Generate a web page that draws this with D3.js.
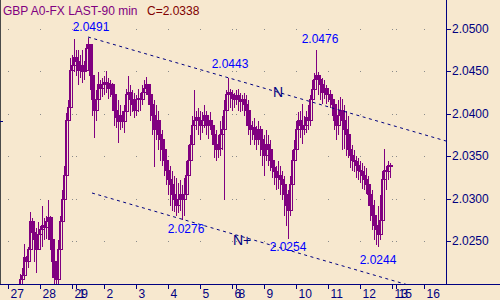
<!DOCTYPE html>
<html><head><meta charset="utf-8">
<script src="https://cdn.jsdelivr.net/npm/d3@7"></script>
<style>
html,body{margin:0;padding:0;background:#f7e8cf;}
svg{display:block;font-family:"Liberation Sans",Arial,sans-serif;}
</style>
</head><body>
<svg id="chart" width="500" height="300"></svg>
<script>
// ---------------- DATA ----------------
const title = "GBP A0-FX LAST-90 min";
const lastLabel = "C=2.0338";
const firstBar = 6; // bar index of the first candle (bars counted from the "27" tick)

const opens = [
2.0195,2.0205,2.0210,2.0231,2.0226,2.0240,2.0273,2.0261,2.0252,2.0240,
2.0258,2.0264,2.0269,2.0266,2.0273,2.0278,2.0252,2.0226,2.0207,2.0205,
2.0240,2.0273,2.0299,2.0328,2.0393,2.0408,2.0452,2.0458,2.0467,2.0462,
2.0452,2.0458,2.0450,2.0452,2.0478,2.0482,2.0446,2.0417,2.0405,2.0417,
2.0435,2.0431,2.0435,2.0438,2.0436,2.0431,2.0435,2.0423,2.0405,2.0396,
2.0391,2.0399,2.0391,2.0403,2.0423,2.0426,2.0417,2.0411,2.0405,2.0417,
2.0419,2.0417,2.0426,2.0431,2.0435,2.0423,2.0411,2.0399,2.0382,2.0393,
2.0376,2.0370,2.0358,2.0346,2.0334,2.0323,2.0317,2.0305,2.0299,2.0293,
2.0299,2.0305,2.0299,2.0305,2.0328,2.0346,2.0364,2.0387,2.0393,2.0396,
2.0393,2.0387,2.0393,2.0399,2.0387,2.0393,2.0387,2.0376,2.0364,2.0358,
2.0360,2.0376,2.0382,2.0405,2.0423,2.0426,2.0423,2.0419,2.0417,2.0422,
2.0417,2.0415,2.0417,2.0411,2.0405,2.0387,2.0382,2.0384,2.0376,2.0370,
2.0382,2.0370,2.0358,2.0352,2.0364,2.0358,2.0346,2.0337,2.0332,2.0325,
2.0328,2.0323,2.0317,2.0305,2.0293,2.0287,2.0317,2.0346,2.0358,2.0382,
2.0393,2.0387,2.0382,2.0387,2.0396,2.0393,2.0417,2.0429,2.0441,2.0446,
2.0441,2.0435,2.0426,2.0431,2.0423,2.0423,2.0417,2.0411,2.0393,2.0387,
2.0399,2.0405,2.0393,2.0382,2.0376,2.0358,2.0352,2.0346,2.0344,2.0340,
2.0334,2.0332,2.0328,2.0323,2.0317,2.0305,2.0293,2.0281,2.0269,2.0264,
2.0258,2.0275,2.0323,2.0334,2.0332,2.0340];

const highs = [
2.0212,2.0219,2.0248,2.0234,2.0244,2.0285,2.0278,2.0269,2.0266,2.0273,
2.0269,2.0293,2.0278,2.0281,2.0299,2.0281,2.0258,2.0234,2.0226,2.0252,
2.0281,2.0311,2.0340,2.0402,2.0417,2.0467,2.0470,2.0489,2.0476,2.0476,
2.0470,2.0476,2.0464,2.0484,2.0491,2.0482,2.0458,2.0423,2.0429,2.0450,
2.0441,2.0443,2.0446,2.0452,2.0443,2.0441,2.0438,2.0431,2.0423,2.0417,
2.0411,2.0405,2.0411,2.0431,2.0446,2.0435,2.0429,2.0426,2.0423,2.0431,
2.0426,2.0435,2.0441,2.0444,2.0435,2.0429,2.0423,2.0417,2.0411,2.0405,
2.0393,2.0382,2.0370,2.0358,2.0346,2.0340,2.0334,2.0328,2.0325,2.0320,
2.0323,2.0317,2.0325,2.0346,2.0364,2.0376,2.0399,2.0429,2.0405,2.0408,
2.0405,2.0403,2.0411,2.0405,2.0399,2.0403,2.0393,2.0387,2.0382,2.0376,
2.0393,2.0399,2.0417,2.0429,2.0443,2.0431,2.0429,2.0426,2.0429,2.0431,
2.0426,2.0423,2.0426,2.0423,2.0417,2.0396,2.0393,2.0396,2.0387,2.0393,
2.0387,2.0382,2.0376,2.0382,2.0376,2.0370,2.0352,2.0346,2.0340,2.0346,
2.0340,2.0334,2.0328,2.0317,2.0311,2.0328,2.0358,2.0370,2.0393,2.0403,
2.0405,2.0413,2.0399,2.0405,2.0411,2.0423,2.0441,2.0449,2.0476,2.0450,
2.0446,2.0443,2.0441,2.0435,2.0431,2.0429,2.0423,2.0417,2.0411,2.0417,
2.0421,2.0419,2.0411,2.0405,2.0399,2.0370,2.0364,2.0358,2.0352,2.0349,
2.0346,2.0343,2.0340,2.0337,2.0328,2.0317,2.0311,2.0299,2.0281,2.0293,
2.0305,2.0334,2.0360,2.0340,2.0346,2.0343];

const lows = [
2.0193,2.0195,2.0208,2.0214,2.0219,2.0240,2.0246,2.0226,2.0213,2.0240,
2.0242,2.0244,2.0252,2.0254,2.0252,2.0240,2.0207,2.0195,2.0195,2.0199,
2.0234,2.0269,2.0293,2.0323,2.0387,2.0399,2.0441,2.0450,2.0446,2.0435,
2.0443,2.0437,2.0441,2.0452,2.0464,2.0429,2.0399,2.0373,2.0393,2.0411,
2.0417,2.0421,2.0423,2.0426,2.0419,2.0421,2.0405,2.0387,2.0384,2.0367,
2.0382,2.0384,2.0379,2.0396,2.0403,2.0399,2.0403,2.0396,2.0399,2.0403,
2.0405,2.0411,2.0417,2.0423,2.0411,2.0393,2.0376,2.0338,2.0370,2.0358,
2.0346,2.0340,2.0328,2.0317,2.0305,2.0293,2.0287,2.0285,2.0281,2.0284,
2.0287,2.0276,2.0281,2.0299,2.0317,2.0334,2.0358,2.0376,2.0382,2.0376,
2.0370,2.0379,2.0384,2.0376,2.0372,2.0382,2.0364,2.0349,2.0346,2.0349,
2.0352,2.0358,2.0300,2.0399,2.0411,2.0408,2.0405,2.0408,2.0411,2.0405,
2.0403,2.0405,2.0399,2.0387,2.0376,2.0364,2.0370,2.0364,2.0358,2.0364,
2.0352,2.0340,2.0328,2.0346,2.0340,2.0334,2.0325,2.0317,2.0311,2.0313,
2.0305,2.0299,2.0281,2.0269,2.0254,2.0281,2.0305,2.0328,2.0346,2.0370,
2.0373,2.0366,2.0376,2.0378,2.0382,2.0387,2.0405,2.0417,2.0435,2.0423,
2.0417,2.0413,2.0419,2.0413,2.0415,2.0408,2.0399,2.0382,2.0370,2.0376,
2.0387,2.0358,2.0360,2.0352,2.0349,2.0337,2.0334,2.0332,2.0326,2.0323,
2.0320,2.0313,2.0311,2.0307,2.0293,2.0275,2.0264,2.0252,2.0246,2.0244,
2.0252,2.0264,2.0317,2.0311,2.0323,2.0325];

const closes = [
2.0205,2.0210,2.0231,2.0226,2.0240,2.0273,2.0261,2.0252,2.0240,2.0258,
2.0264,2.0269,2.0266,2.0273,2.0278,2.0252,2.0226,2.0207,2.0205,2.0240,
2.0273,2.0299,2.0328,2.0393,2.0408,2.0452,2.0458,2.0467,2.0462,2.0452,
2.0458,2.0450,2.0452,2.0478,2.0482,2.0446,2.0417,2.0405,2.0417,2.0435,
2.0431,2.0435,2.0438,2.0436,2.0431,2.0435,2.0423,2.0405,2.0396,2.0391,
2.0399,2.0391,2.0403,2.0423,2.0426,2.0417,2.0411,2.0405,2.0417,2.0419,
2.0417,2.0426,2.0431,2.0435,2.0423,2.0411,2.0399,2.0382,2.0393,2.0376,
2.0370,2.0358,2.0346,2.0334,2.0323,2.0317,2.0305,2.0299,2.0293,2.0299,
2.0305,2.0299,2.0305,2.0328,2.0346,2.0364,2.0387,2.0393,2.0396,2.0393,
2.0387,2.0393,2.0399,2.0387,2.0393,2.0387,2.0376,2.0364,2.0358,2.0360,
2.0376,2.0382,2.0405,2.0423,2.0426,2.0423,2.0419,2.0417,2.0422,2.0417,
2.0415,2.0417,2.0411,2.0405,2.0387,2.0382,2.0384,2.0376,2.0370,2.0382,
2.0370,2.0358,2.0352,2.0364,2.0358,2.0346,2.0337,2.0332,2.0325,2.0328,
2.0323,2.0317,2.0305,2.0293,2.0287,2.0317,2.0346,2.0358,2.0382,2.0393,
2.0387,2.0382,2.0387,2.0396,2.0393,2.0417,2.0429,2.0441,2.0446,2.0441,
2.0435,2.0426,2.0431,2.0423,2.0423,2.0417,2.0411,2.0393,2.0387,2.0399,
2.0405,2.0393,2.0382,2.0376,2.0358,2.0352,2.0346,2.0344,2.0340,2.0334,
2.0332,2.0328,2.0323,2.0317,2.0305,2.0293,2.0281,2.0269,2.0264,2.0258,
2.0275,2.0323,2.0334,2.0332,2.0340,2.0338];

const dateLabels = ["27","28","29","1","2","3","4","5","6","8","9","10","11","12","13","15","16"];
const dateBars   = [0,16,32,34,48,64,80,96,112,114,128,144,160,176,192,194,208];
const priceTicks = [2.0250,2.0300,2.0350,2.0400,2.0450,2.0500];
const lastBarSlot = 219; // right edge of the plot in bar units

const peakBars = [40,110,154],   peakVals = [2.0491,2.0443,2.0476];
const troughBars = [87,140,185], troughVals = [2.0276,2.0254,2.0244];
const channelStartBars = [40,42];  // upper line starts at first peak, lower parallel line
const nLabelBars = [135,112];      // "N" on upper line, "N+" under lower line
const leftMarkVal = 2.0392;

// ---------------- STYLE ----------------
const BG = "#f7e8cf", NAVY = "#000080", PURPLE = "#800080", BLUE = "#0000ff", MAROON = "#800000";

const svg = d3.select("#chart");
const W = 500, H = 300, plotRight = 446, plotBottom = 284;

const x = d3.scaleLinear().domain([0, lastBarSlot]).range([8, plotRight]);
const y = d3.scaleLinear().domain([2.025, 2.05]).rangeRound([241, 29]);

svg.append("rect").attr("width", W).attr("height", H).attr("fill", BG);

svg.append("defs").append("clipPath").attr("id","plot")
  .append("rect").attr("x",1).attr("y",0).attr("width",plotRight-1).attr("height",plotBottom);

// grid dots
const grid = svg.append("g").attr("shape-rendering","crispEdges");
dateBars.forEach(b => priceTicks.forEach(p => {
  grid.append("rect").attr("x", Math.round(x(b))).attr("y", y(p)).attr("width",1).attr("height",1).attr("fill","#8a8a8a");
}));

// candles
const bars = closes.map((c,k) => ({i: firstBar + k, o: opens[k], h: highs[k], l: lows[k], c: c}));
const cg = svg.append("g").attr("clip-path","url(#plot)").attr("shape-rendering","crispEdges");
bars.forEach(d => {
  const cx = Math.round(x(d.i)) + 0.5;
  const top = y(Math.max(d.o, d.c)) + 0.5, bot = y(Math.min(d.o, d.c)) + 0.5;
  const yh = y(d.h) + 0.5, yl = y(d.l) + 0.5;
  cg.append("line").attr("x1",cx).attr("x2",cx).attr("y1",yh).attr("y2",yl).attr("stroke",PURPLE);
  if (bot - top < 1) {
    cg.append("line").attr("x1",cx-1.5).attr("x2",cx+2.5).attr("y1",top).attr("y2",top).attr("stroke",PURPLE);
  } else {
    cg.append("rect").attr("x",cx-1).attr("y",top).attr("width",3).attr("height",bot-top)
      .attr("fill", d.c >= d.o ? "none" : PURPLE).attr("stroke",PURPLE);
  }
});

// channel lines
const slope = (peakVals[1]-peakVals[0])/(peakBars[1]-peakBars[0]);
const upper = [[channelStartBars[0], peakVals[0]], [lastBarSlot, peakVals[0] + slope*(lastBarSlot-peakBars[0])]];
const lower = [[channelStartBars[1], troughVals[0] + slope*(channelStartBars[1]-troughBars[0])],
               [lastBarSlot, troughVals[0] + slope*(lastBarSlot-troughBars[0])]];
const lineGen = d3.line().x(d => x(d[0])).y(d => y(d[1]));
const tg = svg.append("g").attr("clip-path","url(#plot)");
[upper, lower].forEach(pts => tg.append("path").attr("d", lineGen(pts)).attr("fill","none")
  .attr("stroke",NAVY).attr("stroke-width",1).attr("stroke-dasharray","3,3.5"));

// axes
const ax = svg.append("g").attr("shape-rendering","crispEdges");
ax.append("line").attr("x1",0).attr("x2",W).attr("y1",plotBottom+0.5).attr("y2",plotBottom+0.5).attr("stroke",NAVY);
ax.append("line").attr("x1",plotRight+0.5).attr("x2",plotRight+0.5).attr("y1",0).attr("y2",plotBottom).attr("stroke",NAVY);
ax.append("line").attr("x1",0.5).attr("x2",0.5).attr("y1",0).attr("y2",plotBottom).attr("stroke","#4a4a4a");
ax.append("line").attr("x1",0).attr("x2",3).attr("y1",y(leftMarkVal)+0.5).attr("y2",y(leftMarkVal)+0.5).attr("stroke",NAVY);

const yAxis = d3.axisRight(y).tickValues(priceTicks).tickSize(5).tickPadding(1).tickFormat(d3.format(".4f"));
const gy = svg.append("g").attr("transform",`translate(${plotRight},0)`).call(yAxis);
gy.select(".domain").remove();
gy.selectAll("line").attr("stroke",NAVY).attr("shape-rendering","crispEdges");
gy.selectAll("text").attr("fill",NAVY).attr("font-size","12px").attr("font-family","Liberation Sans, Arial, sans-serif");

const xAxis = d3.axisBottom(x).tickValues(dateBars).tickSize(5).tickFormat((d,k) => dateLabels[k]);
const gx = svg.append("g").attr("transform",`translate(0,${plotBottom})`).call(xAxis);
gx.select(".domain").remove();
gx.selectAll("line").attr("stroke",NAVY).attr("shape-rendering","crispEdges");
gx.selectAll("text").attr("fill",NAVY).attr("font-size","12px").attr("font-family","Liberation Sans, Arial, sans-serif")
  .attr("text-anchor","start").attr("x",2).attr("y",14).attr("dy",0);

// title
svg.append("text").attr("x",3).attr("y",15).attr("font-size","12px").attr("fill",PURPLE).text(title);
svg.append("text").attr("x",147).attr("y",15).attr("font-size","12px").attr("fill",MAROON).text(lastLabel);

// peak / trough labels
const peakDx = [3,2,4], peakDy = [-6,-9,-6];
peakBars.forEach((b,k) => svg.append("text").attr("x", x(b)+peakDx[k]).attr("y", y(peakVals[k])+peakDy[k])
  .attr("text-anchor","middle").attr("font-size","12px").attr("fill",BLUE).text(peakVals[k].toFixed(4)));
const trDx = [4,0,0], trDy = [14,13,18];
troughBars.forEach((b,k) => svg.append("text").attr("x", x(b)+trDx[k]).attr("y", y(troughVals[k])+trDy[k])
  .attr("text-anchor","middle").attr("font-size","12px").attr("fill",BLUE).text(troughVals[k].toFixed(4)));

// N labels
const upAt = b => upper[0][1] + slope*(b-upper[0][0]);
const loAt = b => lower[0][1] + slope*(b-lower[0][0]);
svg.append("text").attr("x", x(nLabelBars[0])).attr("y", y(upAt(nLabelBars[0]))+5)
  .attr("text-anchor","middle").attr("font-size","14px").attr("fill",NAVY).text("N");
svg.append("text").attr("x", x(nLabelBars[1])+1).attr("y", y(loAt(nLabelBars[1]))+12)
  .attr("text-anchor","start").attr("font-size","14px").attr("fill",NAVY).text("N+");
</script>
</body></html>
